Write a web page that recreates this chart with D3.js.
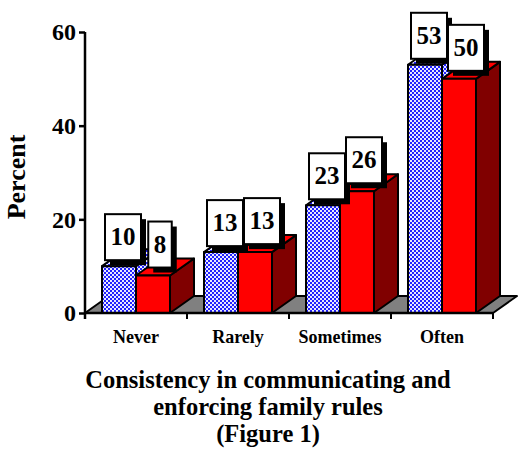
<!DOCTYPE html>
<html>
<head>
<meta charset="utf-8">
<script src="https://cdn.jsdelivr.net/npm/d3@7"></script>
<style>
  body { margin: 0; background: #fff; }
  svg { display: block; font-family: "Liberation Serif", "Times New Roman", serif; font-weight: bold; }
</style>
</head>
<body>
<div class="container"></div>
<script>
// data
const categories = ['Never', 'Rarely', 'Sometimes', 'Often']
const seriesBlue = [10, 13, 23, 53]
const seriesRed = [8, 13, 26, 50]
const yTicks = [0, 20, 40, 60]
const titleLines = ['Consistency in communicating and', 'enforcing family rules', '(Figure 1)']

const w = 519
const h = 456
const margin = {left: 85, right: 26, top: 32, bottom: 143}
const depth = {x: 24, y: -17}
const barW = 34

const svg = d3.select('.container')
  .append('svg')
  .attr('width', w)
  .attr('height', h)

// 蓝色网点填充
const defs = svg.append('defs')
const pat = defs.append('pattern')
  .attr('id', 'dots')
  .attr('patternUnits', 'userSpaceOnUse')
  .attr('width', 4)
  .attr('height', 4)
pat.append('rect').attr('width', 4).attr('height', 4).attr('fill', '#e8e8ff')
pat.append('rect').attr('width', 2).attr('height', 2).attr('fill', '#2222ff')
pat.append('rect').attr('x', 2).attr('y', 2).attr('width', 2).attr('height', 2).attr('fill', '#2222ff')

// 比例尺
const xScale = d3.scaleBand()
  .domain(categories)
  .range([margin.left, w - margin.right])
const yScale = d3.scaleLinear()
  .domain([0, 60])
  .range([h - margin.bottom, margin.top])

const y0 = yScale(0)
const x0 = xScale.range()[0]
const x1 = xScale.range()[1]

// 地板
svg.append('path')
  .attr('d', 'M' + x0 + ',' + y0 +
    'L' + x1 + ',' + y0 +
    'L' + (x1 + depth.x) + ',' + (y0 + depth.y) +
    'L' + (x0 + depth.x) + ',' + (y0 + depth.y) + 'Z')
  .attr('fill', '#808080')
  .attr('stroke', '#000')
  .attr('stroke-width', 2)
  .attr('stroke-linejoin', 'round')

// 3D 柱子
function bar3d(g, left, v, front, top, side) {
  const top0 = yScale(v)
  const right = left + barW
  g.append('path')
    .attr('d', 'M' + right + ',' + y0 + 'L' + (right + depth.x) + ',' + (y0 + depth.y) +
      'L' + (right + depth.x) + ',' + (top0 + depth.y) + 'L' + right + ',' + top0 + 'Z')
    .attr('fill', side)
  g.append('path')
    .attr('d', 'M' + left + ',' + top0 + 'L' + right + ',' + top0 +
      'L' + (right + depth.x) + ',' + (top0 + depth.y) + 'L' + (left + depth.x) + ',' + (top0 + depth.y) + 'Z')
    .attr('fill', top)
  g.append('rect')
    .attr('x', left)
    .attr('y', top0)
    .attr('width', barW)
    .attr('height', y0 - top0)
    .attr('fill', front)
  g.selectAll('path, rect')
    .attr('stroke', '#000')
    .attr('stroke-width', 2)
    .attr('stroke-linejoin', 'round')
}

const bars = svg.append('g').attr('class', 'bars')
categories.forEach((c, i) => {
  const cx = xScale(c) + xScale.bandwidth() / 2
  const g = bars.append('g')
  bar3d(g, cx - barW, seriesBlue[i], 'url(#dots)', 'url(#dots)', 'url(#dots)')
  bar3d(g, cx, seriesRed[i], '#ff0000', '#ff0000', '#800000')
})

// 坐标轴
const yAxis = d3.axisLeft(yScale).tickValues(yTicks).tickSize(6).tickPadding(3)
const gy = svg.append('g')
  .attr('transform', 'translate(' + x0 + ',0)')
  .call(yAxis)
gy.select('.domain').attr('d', 'M0,' + yScale(60) + 'V' + (y0 + 6))
gy.selectAll('path, line').attr('stroke', '#000').attr('stroke-width', 2.5)
gy.selectAll('text').attr('font-size', 24).attr('font-family', '"Liberation Serif", serif').attr('font-weight', 'bold').attr('fill', '#000')

const gx = svg.append('g').attr('transform', 'translate(0,' + y0 + ')')
gx.append('line').attr('x1', x0).attr('x2', x1).attr('stroke', '#000').attr('stroke-width', 2.5)
const edges = categories.map((c) => xScale(c)).concat([x1])
gx.selectAll('.tk')
  .data(edges)
  .enter()
  .append('line')
  .attr('x1', (d) => d)
  .attr('x2', (d) => d)
  .attr('y1', 0)
  .attr('y2', 6)
  .attr('stroke', '#000')
  .attr('stroke-width', 2)
gx.selectAll('.cat')
  .data(categories)
  .enter()
  .append('text')
  .attr('x', (d) => xScale(d) + xScale.bandwidth() / 2)
  .attr('y', 30)
  .attr('text-anchor', 'middle')
  .attr('font-size', 18)
  .text((d) => d)

// 数值标签
function label(cx, v, dx, dy) {
  const g = svg.append('g')
  const t = g.append('text')
    .attr('font-size', 25)
    .attr('text-anchor', 'middle')
    .text(v)
  const tw = t.node().getComputedTextLength()
  const bw = tw + 11
  const bh = 46
  const bx = cx + dx - bw / 2
  const by = yScale(v) + dy - bh
  g.insert('rect', 'text')
    .attr('x', bx + 5).attr('y', by + 5).attr('width', bw).attr('height', bh)
    .attr('fill', '#000')
  g.insert('rect', 'text')
    .attr('x', bx).attr('y', by).attr('width', bw).attr('height', bh)
    .attr('fill', '#fff').attr('stroke', '#000').attr('stroke-width', 2)
  t.attr('x', bx + bw / 2).attr('y', by + bh / 2 + 8)
}
categories.forEach((c, i) => {
  const cx = xScale(c) + xScale.bandwidth() / 2
  label(cx - barW / 2, seriesBlue[i], 4, -6)
  label(cx + barW / 2, seriesRed[i], 7, -8)
})

// 轴标题
svg.append('text')
  .attr('transform', 'translate(25,177) rotate(-90)')
  .attr('text-anchor', 'middle')
  .attr('font-size', 26)
  .text('Percent')

svg.append('g')
  .selectAll('text')
  .data(titleLines)
  .enter()
  .append('text')
  .attr('x', 268)
  .attr('y', (d, i) => 388 + i * 27)
  .attr('text-anchor', 'middle')
  .attr('font-size', 24.5)
  .text((d) => d)
</script>
</body>
</html>
